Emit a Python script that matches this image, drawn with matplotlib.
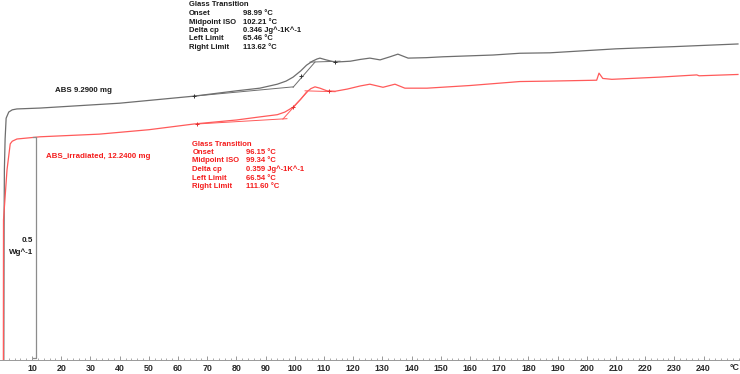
import matplotlib
matplotlib.use("Agg")
import matplotlib.pyplot as plt
from matplotlib.ticker import MultipleLocator

# DSC curves, temperature in degC, heat flow in W/g (arbitrary offset)
abs_t = [0.3, 0.4, 0.5, 0.75, 1.1, 2.0, 3.2, 4.8, 12.7, 40, 65.5, 80, 88, 94, 97,
         99.4, 102, 104, 106, 107.6, 108.6, 110.7, 113.8, 119, 122.4, 125.7, 129.2,
         132.6, 135.3, 138.8, 145, 150.7, 167.9, 177.1, 187.4, 210, 230, 251.8]
abs_hf = [-0.014, 0.300, 0.430, 0.500, 0.547, 0.561, 0.566, 0.568, 0.570, 0.581,
          0.597, 0.609, 0.615, 0.624, 0.631, 0.640, 0.654, 0.667, 0.676, 0.681,
          0.683, 0.679, 0.674, 0.676, 0.680, 0.683, 0.679, 0.686, 0.692, 0.683,
          0.684, 0.686, 0.690, 0.694, 0.695, 0.704, 0.709, 0.715]

irr_t = [0.15, 0.2, 1.4, 2.5, 3.2, 4.8, 12.7, 33, 50, 65.5, 80, 88, 94, 96.6, 99.4,
         102, 104, 105.5, 106.9, 108.6, 111, 113.8, 118, 122.4, 125.7, 130.2, 134.3,
         137.7, 145.3, 160, 177.1, 187.4, 203.4, 204.2, 205.5, 208.6, 225, 237.7,
         238.5, 251.8]
irr_hf = [-0.014, 0.317, 0.430, 0.489, 0.495, 0.500, 0.505, 0.511, 0.521, 0.534,
          0.543, 0.550, 0.555, 0.561, 0.572, 0.590, 0.606, 0.614, 0.618, 0.615,
          0.609, 0.608, 0.613, 0.620, 0.624, 0.617, 0.624, 0.615, 0.615, 0.621,
          0.630, 0.631, 0.633, 0.649, 0.637, 0.635, 0.640, 0.645, 0.643, 0.646]

# glass transition construction lines (t pairs, hf pairs)
abs_base_lo = ([65.46, 99.5], [0.597, 0.618])
abs_tangent = ([99.4, 106.9], [0.617, 0.674])
abs_base_hi = ([105.2, 115.5], [0.674, 0.676])
abs_marks = ([65.46, 102.21, 113.62], [0.597, 0.643, 0.674])

irr_base_lo = ([66.54, 97.3], [0.534, 0.546])
irr_tangent = ([95.9, 104.2], [0.545, 0.606])
irr_base_hi = ([103.5, 113.8], [0.609, 0.607])
irr_marks = ([66.54, 99.34, 111.60], [0.534, 0.572, 0.609])

abs_labels = ["Glass Transition", "Onset", "Midpoint ISO", "Delta cp", "Left Limit", "Right Limit"]
abs_values = ["", "98.99 °C", "102.21 °C", "0.346 Jg^-1K^-1", "65.46 °C", "113.62 °C"]
irr_values = ["", "96.15 °C", "99.34 °C", "0.359 Jg^-1K^-1", "66.54 °C", "111.60 °C"]

scale_t = 11.4
scale_hf = [0.005, 0.5045]

W, H = 740, 374
gray = "#6e6e6e"
red_line = "#ff5a5a"
red_txt = "#f41c1c"
font = "Liberation Sans"

fig = plt.figure(figsize=(W / 100, H / 100), dpi=100)
ax = fig.add_axes([0, 14 / H, 1, 360 / H])


def px(x, y):
    return x / W, 1 - y / H


ax.plot(abs_t, abs_hf, color=gray, lw=0.9)
ax.plot(irr_t, irr_hf, color=red_line, lw=0.9)

for seg in (abs_base_lo, abs_tangent, abs_base_hi):
    ax.plot(*seg, color=gray, lw=0.7)
for seg in (irr_base_lo, irr_tangent, irr_base_hi):
    ax.plot(*seg, color=red_line, lw=0.7)
ax.plot(*abs_marks, "+", color="#333333", ms=3, mew=0.7)
ax.plot(*irr_marks, "+", color="#e03030", ms=3, mew=0.7)

# 0.5 W/g scale bar
ax.plot([scale_t - 1.1, scale_t, scale_t, scale_t - 1.1],
        [scale_hf[1], scale_hf[1], scale_hf[0], scale_hf[0]], color="#8c8c8c", lw=0.9)

ax.set_xlim(-1, 252.5)
ax.set_ylim(0, 360 / 442)
ax.xaxis.set_minor_locator(MultipleLocator(2))
ax.set_xticks(range(10, 250, 10))
ax.tick_params(axis="x", which="major", direction="in", length=3, width=0.6, color="#888888",
               labelsize=6.4, pad=3, labelcolor="#2a2a2a")
ax.tick_params(axis="x", which="minor", direction="in", length=1.5, width=0.5, color="#888888")
for lb in ax.get_xticklabels():
    lb.set_fontweight("bold")
    lb.set_family(font)
ax.set_yticks([])
for s in ("top", "left", "right"):
    ax.spines[s].set_visible(False)
ax.spines["bottom"].set_color("#999999")
ax.spines["bottom"].set_linewidth(0.7)
ax.patch.set_alpha(0)

fig.text(*px(735, 368), "°C", fontsize=6.4, fontweight="bold", family=font,
         color="#2a2a2a", ha="center", va="center")

for i, (lab, val) in enumerate(zip(abs_labels, abs_values)):
    y = 5 + i * 8.5
    fig.text(*px(189, y), lab, fontsize=5.5, fontweight="bold", family=font,
             color="#1a1a1a", va="center")
    fig.text(*px(243, y), val, fontsize=5.5, fontweight="bold", family=font,
             color="#1a1a1a", va="center")
for i, (lab, val) in enumerate(zip(abs_labels, irr_values)):
    y = 144 + i * 8.5
    fig.text(*px(192.5, y), lab, fontsize=5.5, fontweight="bold", family=font,
             color=red_txt, va="center")
    fig.text(*px(246.5, y), val, fontsize=5.5, fontweight="bold", family=font,
             color=red_txt, va="center")

fig.text(*px(55, 91), "ABS 9.2900 mg", fontsize=5.7, fontweight="bold", family=font,
         color="#1a1a1a", va="center")
fig.text(*px(46, 157), "ABS_irradiated, 12.2400 mg", fontsize=5.7, fontweight="bold",
         family=font, color=red_txt, va="center")
fig.text(*px(33, 241), "0.5", fontsize=5.8, fontweight="bold", family=font,
         color="#1a1a1a", ha="right", va="center")
fig.text(*px(33, 252), "Wg^-1", fontsize=5.8, fontweight="bold", family=font,
         color="#1a1a1a", ha="right", va="center")

fig.savefig("out.png", dpi=100)
